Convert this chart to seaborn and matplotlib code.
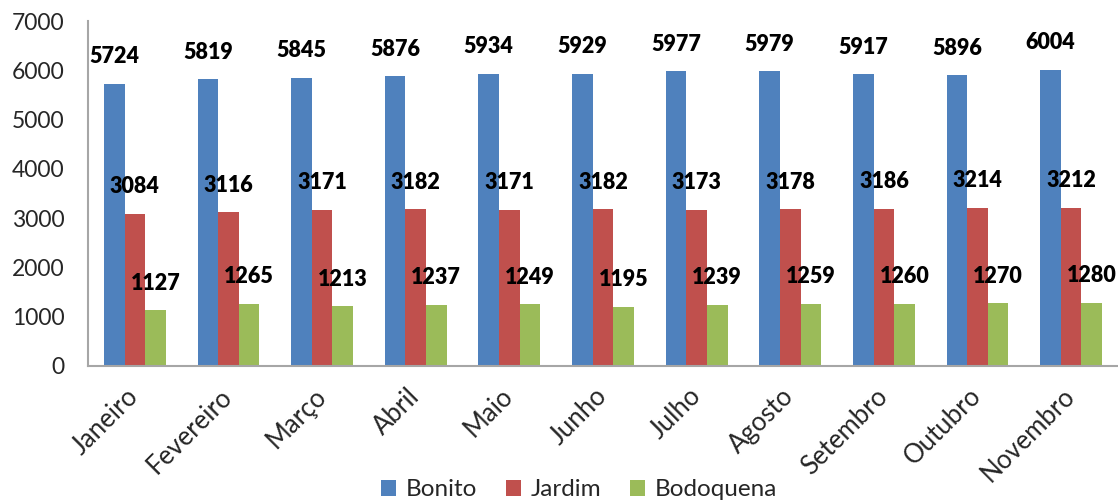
import matplotlib
matplotlib.use("Agg")
import matplotlib.pyplot as plt
import seaborn as sns
import pandas as pd
from matplotlib.patches import Rectangle

months = ["Janeiro", "Fevereiro", "Março", "Abril", "Maio", "Junho",
          "Julho", "Agosto", "Setembro", "Outubro", "Novembro"]
bonito = [5724, 5819, 5845, 5876, 5934, 5929, 5977, 5979, 5917, 5896, 6004]
jardim = [3084, 3116, 3171, 3182, 3171, 3182, 3173, 3178, 3186, 3214, 3212]
bodoquena = [1127, 1265, 1213, 1237, 1249, 1195, 1239, 1259, 1260, 1270, 1280]
series = ["Bonito", "Jardim", "Bodoquena"]
colors = ["#4F81BD", "#C0504D", "#9BBB59"]
yticks = [0, 1000, 2000, 3000, 4000, 5000, 6000, 7000]

df = pd.DataFrame({
    "Mes": months * 3,
    "Valor": bonito + jardim + bodoquena,
    "Cidade": ["Bonito"] * 11 + ["Jardim"] * 11 + ["Bodoquena"] * 11,
})

sns.set_style("white")
plt.rcParams["font.family"] = ["Lato", "DejaVu Sans"]

fig = plt.figure(figsize=(11.18, 5.0), dpi=100)
ax = fig.add_axes([88 / 1118, 1 - 366 / 500, 1 - 88 / 1118, (366 - 21) / 500])

sns.barplot(data=df, x="Mes", y="Valor", hue="Cidade", hue_order=series,
            order=months, palette=colors, width=0.66, gap=0, saturation=1,
            edgecolor="none", linewidth=0, ax=ax, legend=False)

for cont in ax.containers:
    ax.bar_label(cont, padding=12, fontsize=15.5, fontweight="heavy", color="black")

ax.set_xlim(-0.5, len(months) - 0.5)
ax.set_ylim(0, 7000)
ax.set_yticks(yticks)
ax.set_yticklabels([str(v) for v in yticks], fontsize=16.5)
ax.set_xlabel("")
ax.set_ylabel("")
ax.tick_params(axis="y", length=0, pad=17)
ax.tick_params(axis="x", length=0, pad=19)
for lab in ax.get_xticklabels():
    lab.set_rotation(45)
    lab.set_ha("right")
    lab.set_va("center")
    lab.set_rotation_mode("anchor")
    lab.set_fontsize(18.5)

for s in ["top", "right"]:
    ax.spines[s].set_visible(False)
for s in ["left", "bottom"]:
    ax.spines[s].set_color("#A6A6A6")
    ax.spines[s].set_linewidth(1.5)

handles = [Rectangle((0, 0), 1, 1, facecolor=c, edgecolor="none") for c in colors]
fig.legend(handles, series, loc="center", bbox_to_anchor=(579 / 1118, 1 - 490 / 500),
           ncol=3, frameon=False, fontsize=17.5, handlelength=0.6, handleheight=0.6,
           handletextpad=0.4, columnspacing=1.2)

fig.savefig("out.png", dpi=100)
